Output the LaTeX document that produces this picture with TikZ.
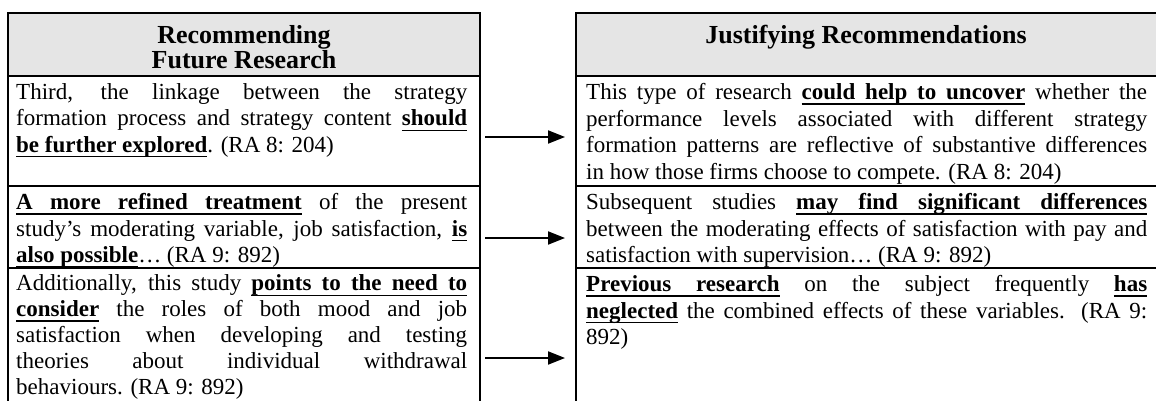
\documentclass[tikz,border=0pt]{standalone}
\usepackage{fontspec}
\setmainfont{Liberation Serif}
\usetikzlibrary{arrows.meta}
\tikzset {>={Triangle[length=17pt,width=13pt]}}
\hbadness=10000
% underlined bold words, spaces may stretch
\newcommand{\ulword}[1]{\setbox0\hbox{#1}\rlap{\vrule height -3.6pt depth 5pt width \wd0}\box0}
\newcommand{\ulspace}{\leaders\hrule height -3.6pt depth 5pt\hskip\fontdimen2\font plus\fontdimen3\font minus\fontdimen4\font}
\def\keyloop#1 #2\relax{\ulword{#1}\ifx\relax#2\relax\else\ulspace\keyloop#2\relax\fi}
\newcommand{\key}[1]{\textbf{\keyloop#1 \relax}}
\tikzset{
  cell/.style={anchor=north west,inner sep=0pt,align=justify,font=\fontsize{23}{26.5}\selectfont},
  head/.style={anchor=north,inner sep=0pt,align=center,font=\fontsize{26}{25}\selectfont\bfseries},
  frame/.style={line width=1.6pt},
  rowline/.style={line width=2.4pt}
}

\begin{document}
\begin{tikzpicture}[x=1pt,y=-1pt]
\useasboundingbox (0,0) rectangle (1156,400);
% header shading
\fill[black!10] (8,13) rectangle (480,76);
\fill[black!10] (576,13) rectangle (1162,76);
% table frames
\draw[frame] (8,410) -- (8,13) -- (480,13) -- (480,410);
\draw[frame] (576,410) -- (576,13) -- (1162,13);
\draw[rowline] (8,76) -- (480,76) (8,186) -- (480,186) (8,268) -- (480,268);
\draw[rowline] (576,76) -- (1162,76) (576,186) -- (1162,186) (576,268) -- (1162,268);

\node[head] (recHead) at (244,25) {Recommending\\Future Research};
\node[head] (jusHead) at (866,25) {Justifying Recommendations};

\node[cell,text width=451pt] (rec1) at (16,83.3) {Third, the linkage between the strategy\linebreak
  formation process and strategy content \key{should}\linebreak
  \key{be further explored}. (RA 8: 204)};
\node[cell,text width=451pt] (rec2) at (16,193.3) {\key{A more refined treatment} of the present\linebreak
  study’s moderating variable, job satisfaction, \key{is}\linebreak
  \key{also possible}… (RA 9: 892)};
\node[cell,text width=451pt,font=\fontsize{23}{25.8}\selectfont] (rec3) at (16,274.8) {Additionally, this study \key{points to the need to}\linebreak
  \key{consider} the roles of both mood and job\linebreak
  satisfaction when developing and testing\linebreak
  theories about individual withdrawal\linebreak
  behaviours. (RA 9: 892)};

\node[cell,text width=561pt] (jus1) at (586,83.3) {This type of research \key{could help to uncover} whether the\linebreak
  performance levels associated with different strategy\linebreak
  formation patterns are reflective of substantive differences\linebreak
  in how those firms choose to compete. (RA 8: 204)};
\node[cell,text width=561pt] (jus2) at (586,193.3) {Subsequent studies \key{may find significant differences}\linebreak
  between the moderating effects of satisfaction with pay and\linebreak
  satisfaction with supervision… (RA 9: 892)};
\node[cell,text width=561pt] (jus3) at (586,275.3) {\key{Previous research} on the subject frequently \key{has}\linebreak
  \key{neglected} the combined effects of these variables. (RA 9:\linebreak
  892)};

% arrows between the two tables
\coordinate (a1s) at (485,137); \coordinate (a1e) at (565,137);
\coordinate (a2s) at (485,238); \coordinate (a2e) at (565,238);
\coordinate (a3s) at (485,358); \coordinate (a3e) at (565,358);
\draw[->,line width=2pt] (a1s) -- (a1e);
\draw[->,line width=2pt] (a2s) -- (a2e);
\draw[->,line width=2pt] (a3s) -- (a3e);
\end{tikzpicture}
\end{document}
